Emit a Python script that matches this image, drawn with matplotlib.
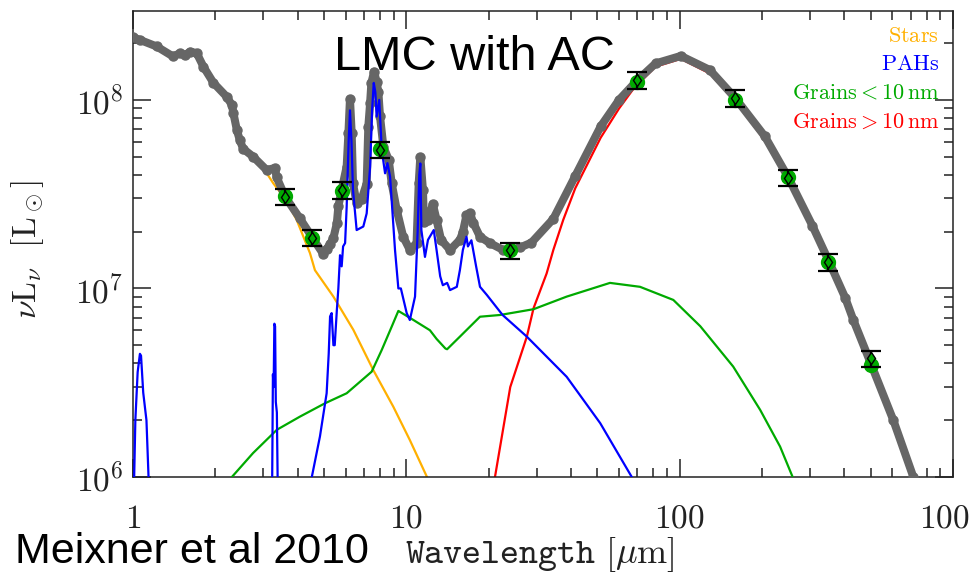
# LMC SED model (Meixner et al 2010) - recreated with matplotlib
import math
import matplotlib
matplotlib.use("Agg")
import matplotlib.pyplot as plt
from matplotlib.ticker import LogLocator, FuncFormatter, NullFormatter

plt.rcParams["mathtext.fontset"] = "cm"

# ------------------------------------------------------------
# data (wavelength in micron, nu L_nu in L_sun)
# ------------------------------------------------------------
total_wl = [1.00, 1.06, 1.22, 1.40, 1.49, 1.55, 1.62, 1.71, 1.81, 1.97,
            2.20, 2.30, 2.33, 2.40, 2.46, 2.53, 2.75, 3.08, 3.31, 3.35,
            3.60, 4.08, 4.51, 4.97, 5.11, 5.26, 5.41, 5.57, 5.64, 5.80,
            6.05, 6.14, 6.22, 6.31, 6.38, 6.58, 6.86, 7.16, 7.26, 7.37,
            7.45, 7.62, 7.78, 7.90, 8.01, 8.24, 8.62, 8.84, 9.22, 9.74,
            10.3, 10.9, 11.1, 11.25, 11.5, 11.6, 12.0, 12.5, 12.9, 13.4,
            14.45, 15.7, 16.1, 16.6, 17.1, 17.6, 18.6, 20.2, 22.6, 24.0,
            26.1, 28.7, 34.5, 41.5, 51.4, 60.0, 70.0, 81.6, 101, 129,
            160, 205, 250, 306, 355, 403, 432, 497, 605, 716, 760]
total_L = [2.15e8, 2.08e8, 1.92e8, 1.70e8, 1.77e8, 1.73e8, 1.80e8, 1.77e8, 1.50e8, 1.23e8,
           1.04e8, 9.4e7, 8.5e7, 6.9e7, 6.1e7, 5.5e7, 5.0e7, 4.25e7, 4.35e7, 3.9e7,
           3.07e7, 2.35e7, 1.88e7, 1.52e7, 1.62e7, 1.72e7, 1.85e7, 2.22e7, 2.72e7, 3.33e7,
           4.43e7, 6.66e7, 1.01e8, 6.66e7, 3.61e7, 2.83e7, 2.97e7, 3.6e7, 7.2e7, 9.6e7,
           1.23e8, 1.41e8, 1.25e8, 1.1e8, 8.2e7, 5.65e7, 4.81e7, 3.61e7, 2.61e7, 1.88e7,
           1.60e7, 1.74e7, 3.61e7, 4.98e7, 3.33e7, 2.24e7, 2.31e7, 2.80e7, 2.31e7, 1.81e7,
           1.60e7, 1.81e7, 1.99e7, 2.45e7, 2.50e7, 2.22e7, 1.88e7, 1.74e7, 1.60e7, 1.60e7,
           1.65e7, 1.75e7, 2.34e7, 3.95e7, 7.23e7, 1.0e8, 1.27e8, 1.56e8, 1.71e8, 1.44e8,
           1.02e8, 6.4e7, 3.86e7, 2.15e7, 1.35e7, 8.95e6, 6.8e6, 4.1e6, 2.0e6, 1.0e6, 8.0e5]

stars_wl = [1.00, 1.06, 1.22, 1.40, 1.49, 1.55, 1.62, 1.71, 1.81, 1.97,
            2.20, 2.30, 2.33, 2.40, 2.46, 2.53, 2.75, 3.08, 3.26, 3.60,
            3.97, 4.44, 4.63, 5.41, 6.40, 7.57, 8.96, 10.3, 11.9, 12.2]
stars_L = [2.1e8, 2.05e8, 1.9e8, 1.68e8, 1.75e8, 1.7e8, 1.78e8, 1.75e8, 1.48e8, 1.21e8,
           1.02e8, 9.2e7, 8.3e7, 6.8e7, 6.0e7, 5.4e7, 4.9e7, 4.1e7, 3.61e7, 3.0e7,
           2.31e7, 1.54e7, 1.25e7, 9.05e6, 6.03e6, 3.69e6, 2.36e6, 1.57e6, 1.0e6, 9.0e5]

pah_wl = [1.00, 1.02, 1.04, 1.06, 1.07, 1.09, 1.12, 1.16, 3.22, 3.25,
          3.27, 3.29, 3.31, 3.33, 3.36, 3.40, 4.45, 4.51, 4.83, 5.11,
          5.20, 5.26, 5.33, 5.41, 5.47, 5.57, 5.64, 5.72, 5.80, 5.87,
          5.97, 6.05, 6.15, 6.22, 6.30, 6.38, 6.58, 6.96, 7.16, 7.37,
          7.50, 7.60, 7.70, 7.79, 7.96, 8.13, 8.36, 8.53, 8.72, 9.09,
          9.35, 9.55, 10.03, 10.3, 10.76, 11.0, 11.15, 11.25, 11.35, 11.7,
          12.0, 12.6, 12.9, 13.3, 13.6, 14.1, 14.45, 15.3, 15.7, 16.1,
          16.6, 16.8, 17.3, 18.0, 18.6, 19.7, 22.5, 27.6, 38.6, 51.2,
          66.8, 72.0]
pah_L = [5e5, 2.0e6, 3.6e6, 4.5e6, 4.4e6, 2.8e6, 2.0e6, 5e5, 5e5, 3.5e6,
         3.0e6, 6.5e6, 6.3e6, 2.5e6, 2.2e6, 5e5, 5e5, 1.0e6, 1.64e6, 2.78e6,
         4.5e6, 7.1e6, 7.4e6, 5.0e6, 5.0e6, 7.7e6, 1.0e7, 1.5e7, 1.31e7, 1.67e7,
         1.74e7, 2.72e7, 6.0e7, 8.8e7, 6.0e7, 3.33e7, 2.04e7, 2.13e7, 2.5e7, 4.43e7,
         9.0e7, 1.23e8, 1.1e8, 8.16e7, 1.0e8, 5.43e7, 4.08e7, 4.62e7, 3.92e7, 1.6e7,
         1.0e7, 1.0e7, 7.4e6, 6.8e6, 9.05e6, 2.0e7, 4.0e7, 4.6e7, 2.04e7, 1.47e7,
         1.81e7, 2.04e7, 1.6e7, 1.16e7, 1.04e7, 1.07e7, 9.8e6, 1.02e7, 1.25e7, 1.6e7,
         1.88e7, 1.67e7, 1.8e7, 1.31e7, 1.02e7, 9.24e6, 7.23e6, 5.55e6, 3.40e6, 1.93e6,
         1.0e6, 6e5]

small_wl = [2.25, 2.30, 2.75, 3.36, 4.08, 5.04, 6.05, 7.47, 8.13, 8.84,
            9.35, 10.6, 12.2, 12.9, 13.9, 14.1, 15.7, 18.6, 22.0, 29.2,
            38.6, 55.6, 71.6, 94.8, 119, 157, 197, 233, 259, 265]
small_L = [9e5, 1.0e6, 1.34e6, 1.78e6, 2.09e6, 2.46e6, 2.78e6, 3.62e6, 4.72e6, 6.27e6,
           7.6e6, 6.81e6, 6.0e6, 5.4e6, 4.8e6, 4.76e6, 5.55e6, 7.08e6, 7.23e6, 7.76e6,
           9.05e6, 1.07e7, 1.02e7, 8.69e6, 6.3e6, 3.85e6, 2.27e6, 1.45e6, 1.0e6, 9e5]

big_wl = [20.8, 21.1, 24.0, 27.6, 29.2, 32.6, 34.5, 37.5, 41.5, 51.4,
          60.0, 67.9, 81.6, 101, 129, 160, 205, 250, 306, 355,
          403, 497, 605, 716, 760]
big_L = [9e5, 1.0e6, 3.0e6, 5.55e6, 7.85e6, 1.2e7, 1.6e7, 2.31e7, 3.4e7, 6.3e7,
         9.0e7, 1.15e8, 1.5e8, 1.65e8, 1.38e8, 9.8e7, 6.1e7, 3.7e7, 2.05e7, 1.3e7,
         8.6e6, 3.9e6, 1.9e6, 9.5e5, 7.5e5]

# photometry (black, with error bars) and model band values (green)
obs_wl = [3.6, 4.5, 5.8, 8.0, 24, 70, 160, 250, 350, 500]
obs_L = [3.07e7, 1.86e7, 3.33e7, 5.45e7, 1.59e7, 1.27e8, 1.02e8, 3.86e7, 1.38e7, 4.26e6]
band_L = [3.1e7, 1.85e7, 3.3e7, 5.5e7, 1.6e7, 1.25e8, 1.0e8, 3.9e7, 1.38e7, 3.95e6]
obs_err = 0.1

legend_labels = [r"$\mathrm{Stars}$", r"$\mathrm{PAHs}$",
                 r"$\mathrm{Grains} < \mathrm{10\,nm}$", r"$\mathrm{Grains} > \mathrm{10\,nm}$"]

c_stars = "#ffb000"
c_pah = "#0000ff"
c_small = "#00aa00"
c_big = "#ff0000"
c_total = "#666666"

# ------------------------------------------------------------
# figure
# ------------------------------------------------------------
W, H = 970, 576
fig = plt.figure(figsize=(W / 100, H / 100), dpi=100)
ax = fig.add_axes([133 / W, 1 - 477 / H, 820 / W, 466 / H])

ax.plot(stars_wl, stars_L, color=c_stars, lw=1.6, zorder=2)
ax.plot(big_wl, big_L, color=c_big, lw=1.6, zorder=2)
ax.plot(total_wl, total_L, color=c_total, lw=5.8, marker="o", ms=6.5, zorder=3)
ax.plot(small_wl, small_L, color=c_small, lw=1.6, zorder=4)
ax.plot(pah_wl, pah_L, color=c_pah, lw=1.6, zorder=4)

ax.plot(obs_wl, band_L, "o", color=c_small, ms=10, zorder=5)
yerr = [[v * obs_err for v in obs_L], [v * obs_err for v in obs_L]]
ax.errorbar(obs_wl, obs_L, yerr=yerr, fmt="d", color="black", mfc=c_small, mec="black",
            ms=6, capsize=7, elinewidth=1.6, capthick=1.6, zorder=6)

ax.set_xscale("log")
ax.set_yscale("log")
ax.set_xlim(1, 1000)
ax.set_ylim(1e6, 2.96e8)

# ticks on all sides, pointing in
ax.xaxis.set_major_locator(LogLocator(base=10))
ax.xaxis.set_minor_locator(LogLocator(base=10, subs=range(2, 10)))
ax.yaxis.set_major_locator(LogLocator(base=10))
ax.yaxis.set_minor_locator(LogLocator(base=10, subs=range(2, 10)))
ax.xaxis.set_major_formatter(FuncFormatter(lambda v, p: r"$\mathrm{%d}$" % round(v)))
ax.yaxis.set_major_formatter(FuncFormatter(lambda v, p: r"$\mathrm{10^{%d}}$" % round(math.log10(v))))
ax.xaxis.set_minor_formatter(NullFormatter())
ax.yaxis.set_minor_formatter(NullFormatter())
ax.tick_params(which="both", direction="in", top=True, right=True, width=1.1, colors="#222222")
ax.tick_params(which="major", length=13)
ax.tick_params(which="minor", length=6.5)
ax.tick_params(axis="x", which="major", labelsize=24, pad=18, labelcolor="#222222")
ax.tick_params(axis="y", which="major", labelsize=24, pad=7, labelcolor="#222222")
for s in ax.spines.values():
    s.set_linewidth(1.1)
    s.set_color("#222222")

# component labels in the top right corner
legend_colors = [c_stars, c_pah, c_small, c_big]
legend_y = [0.9335, 0.873, 0.813, 0.749]
for lab, col, yy in zip(legend_labels, legend_colors, legend_y):
    ax.text(0.983, yy, lab, color=col, fontsize=16, ha="right", va="baseline",
            transform=ax.transAxes)

# axis titles and annotations
fig.text(540 / W, 1 - 563 / H, r"$\mathtt{Wavelength}\ [\mu\mathrm{m}]$",
         fontsize=26, ha="center", va="baseline", color="#222222")
fig.text(28 / W, 1 - 249 / H, r"$\nu\mathrm{L}_\nu\ \ [\mathrm{L}_\odot]$",
         fontsize=24, rotation=90, ha="center", va="center", color="#222222")
fig.text(474 / W, 1 - 70 / H, "LMC with AC", fontsize=35, family="Liberation Sans",
         ha="center", va="baseline")
fig.text(15 / W, 1 - 563 / H, "Meixner et al 2010", fontsize=31, family="Liberation Sans",
         ha="left", va="baseline")

plt.savefig("out.png", dpi=100)
